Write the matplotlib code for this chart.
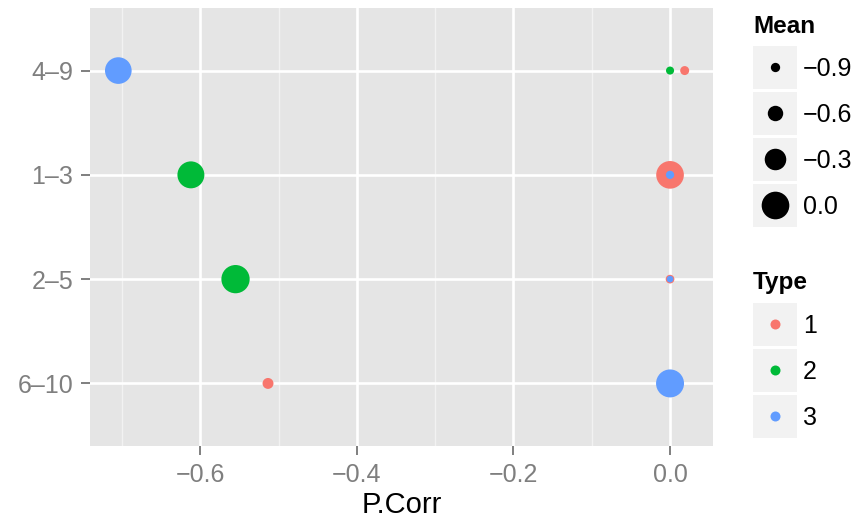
import numpy as np
import matplotlib
matplotlib.use('Agg')
from matplotlib import pyplot as plt
from matplotlib.patches import Rectangle

plt.rcParams['font.family'] = ['Liberation Sans', 'DejaVu Sans']

# categories, bottom to top
cats = ['6–10', '2–5', '1–3', '4–9']
types = ['1', '2', '3']
colors = ['#F8766D', '#00BA38', '#619CFF']

# P.Corr per type, one value per category (same order as cats)
pcorr_1 = [-0.5135, 0.0, 0.0, 0.0187]
pcorr_2 = [0.0, -0.555, -0.612, 0.0]
pcorr_3 = [0.0, 0.0, 0.0, -0.7047]

# Mean per type
mean_1 = [-0.82, -0.93, 0.0, -0.915]
mean_2 = [-0.97, 0.03, -0.035, -0.96]
mean_3 = [0.015, -1.03, -0.95, -0.05]

mean_breaks = [-0.9, -0.6, -0.3, 0.0]

W, H, DPI = 862, 520, 100


def dot_px(m):
    # size scale (diameter in pixels)
    return 9.3 + (np.asarray(m) + 0.9) * 20.4


def area(d_px):
    return (np.asarray(d_px) * 72.0 / DPI) ** 2


def minus(s):
    return s.replace('-', '\u2212')


fig = plt.figure(figsize=(W / DPI, H / DPI), dpi=DPI)
ax = fig.add_axes([90 / W, 74 / H, 623 / W, 438 / H])
ax.set_facecolor('#E5E5E5')
for sp in ax.spines.values():
    sp.set_visible(False)

y = np.arange(1, len(cats) + 1)
pcs = [pcorr_1, pcorr_2, pcorr_3]
means = [mean_1, mean_2, mean_3]
for pc, mn, col in zip(pcs, means, colors):
    ax.scatter(pc, y, s=area(dot_px(mn)), c=col, linewidths=0, zorder=3)

allx = np.concatenate(pcs)
lo, hi = allx.min(), allx.max()
pad = 0.05 * (hi - lo)
ax.set_xlim(lo - pad, hi + pad)
ax.set_ylim(0.4, len(cats) + 0.6)

major = [-0.6, -0.4, -0.2, 0.0]
minor = [-0.7, -0.5, -0.3, -0.1]
ax.set_xticks(major)
ax.set_xticklabels([minus(f'{v:.1f}') for v in major])
ax.set_xticks(minor, minor=True)
ax.set_yticks(y)
ax.set_yticklabels(cats)

ax.set_axisbelow(True)
ax.grid(which='major', color='white', linewidth=1.9)
ax.grid(which='minor', axis='x', color='#F2F2F2', linewidth=1.0)
ax.tick_params(which='major', length=6.5, width=1.4, color='#7F7F7F',
               labelcolor='#7F7F7F', labelsize=18, pad=5.5)
ax.tick_params(which='minor', length=0)
ax.set_xlabel('P.Corr', fontsize=21, labelpad=3)

# legends drawn by hand in pixel coords
lg = fig.add_axes([0, 0, 1, 1])
lg.set_xlim(0, W)
lg.set_ylim(H, 0)
lg.axis('off')
lg.patch.set_visible(False)

kx0, kw, kh, pitch = 753, 44, 43.5, 46
lg.text(kx0, 33, 'Mean', fontsize=17.5, fontweight='bold', va='baseline')
for i, b in enumerate(mean_breaks):
    top = 45.7 + i * pitch
    lg.add_patch(Rectangle((kx0, top), kw, kh, facecolor='#F2F2F2', edgecolor='none'))
    lg.scatter([kx0 + kw / 2], [top + kh / 2], s=area(dot_px(b)), c='black', linewidths=0)
    lg.text(803, top + kh / 2 + 9, minus(f'{b:.1f}'), fontsize=18, va='baseline')

lg.text(kx0, 288.5, 'Type', fontsize=17.5, fontweight='bold', va='baseline')
for i, (t, col) in enumerate(zip(types, colors)):
    top = 302.7 + i * pitch
    lg.add_patch(Rectangle((kx0, top), kw, kh, facecolor='#F2F2F2', edgecolor='none'))
    lg.scatter([kx0 + kw / 2], [top + kh / 2], s=area(10), c=col, linewidths=0)
    lg.text(803, top + kh / 2 + 9, t, fontsize=18, va='baseline')

fig.savefig('out.png', dpi=DPI)
